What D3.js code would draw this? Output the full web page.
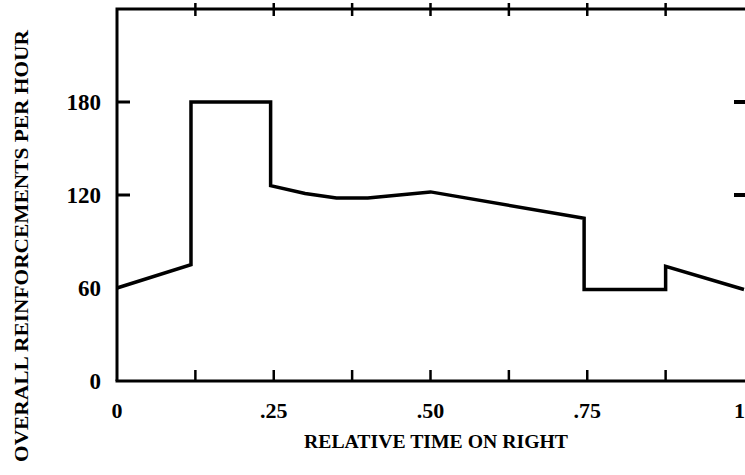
<!DOCTYPE html>
<html>
<head>
<meta charset="utf-8">
<script src="https://cdn.jsdelivr.net/npm/d3@7"></script>
<style>
  body { margin: 0; background: #fff; }
  svg { display: block; }
  text { font-family: "Liberation Serif", "DejaVu Serif", serif; font-weight: bold; fill: #000; }
</style>
</head>
<body>
<svg id="chart" width="745" height="475"></svg>
<script>
// data
const timeValues = [0, 0.118, 0.118, 0.245, 0.245, 0.3, 0.35, 0.4, 0.45, 0.5, 0.745, 0.745, 0.875, 0.875, 1];
const rateValues = [60, 75, 180, 180, 126, 121, 118, 118, 120, 122, 105, 59, 59, 74, 59];
const xTicks = [0, 0.125, 0.25, 0.375, 0.5, 0.625, 0.75, 0.875, 1];
const xTickLabels = ["0", ".25", ".50", ".75", "1"];
const xLabelValues = [0, 0.25, 0.5, 0.75, 1];
const yTicks = [0, 60, 120, 180];

const svg = d3.select("#chart");
const plotLeft = 117, plotRight = 744, plotTop = 9, plotBottom = 381;

const x = d3.scaleLinear().domain([0, 1]).range([plotLeft, plotRight]);
const y = d3.scaleLinear().domain([0, 240]).range([plotBottom, plotTop]);

// frame: left and bottom axis, top line
svg.append("path")
    .attr("d", `M${plotLeft},${plotBottom} L${plotLeft},${plotTop} L745,${plotTop}`)
    .attr("fill", "none")
    .attr("stroke", "#000")
    .attr("stroke-width", 3);
svg.append("line")
    .attr("x1", plotLeft - 1.5).attr("x2", 745)
    .attr("y1", plotBottom).attr("y2", plotBottom)
    .attr("stroke", "#000")
    .attr("stroke-width", 3);

// x ticks, bottom (inward) and top (crossing)
xTicks.filter(d => d > 0 && d < 1).forEach(function (d) {
    svg.append("line")
        .attr("x1", x(d)).attr("x2", x(d))
        .attr("y1", plotBottom).attr("y2", plotBottom - 11)
        .attr("stroke", "#000").attr("stroke-width", 2.5);
    svg.append("line")
        .attr("x1", x(d)).attr("x2", x(d))
        .attr("y1", plotTop - 6).attr("y2", plotTop + 7)
        .attr("stroke", "#000").attr("stroke-width", 2.5);
});

// y ticks, left inward and right edge
yTicks.filter(d => d > 60).forEach(function (d) {
    svg.append("line")
        .attr("x1", plotLeft).attr("x2", plotLeft + 13)
        .attr("y1", y(d)).attr("y2", y(d))
        .attr("stroke", "#000").attr("stroke-width", 3);
    svg.append("line")
        .attr("x1", 734).attr("x2", 745)
        .attr("y1", y(d)).attr("y2", y(d))
        .attr("stroke", "#000").attr("stroke-width", 4);
});

// tick labels
svg.selectAll("text.ylab")
    .data(yTicks)
    .enter()
    .append("text")
    .attr("class", "ylab")
    .attr("x", 101)
    .attr("y", d => y(d) + 8)
    .attr("text-anchor", "end")
    .attr("font-size", 23)
    .text(d => d);

svg.selectAll("text.xlab")
    .data(xLabelValues)
    .enter()
    .append("text")
    .attr("class", "xlab")
    .attr("x", d => d === 1 ? 745 : x(d))
    .attr("y", 418)
    .attr("text-anchor", d => d === 1 ? "end" : "middle")
    .attr("font-size", 22)
    .text((d, i) => xTickLabels[i]);

// axis titles
svg.append("text")
    .attr("x", 436)
    .attr("y", 448)
    .attr("text-anchor", "middle")
    .attr("font-size", 19)
    .attr("textLength", 264)
    .attr("lengthAdjust", "spacingAndGlyphs")
    .text("RELATIVE TIME ON RIGHT");

svg.append("text")
    .attr("transform", "translate(28,246) rotate(-90)")
    .attr("text-anchor", "middle")
    .attr("font-size", 19)
    .attr("textLength", 432)
    .attr("lengthAdjust", "spacingAndGlyphs")
    .text("OVERALL REINFORCEMENTS PER HOUR");

// data line
const line = d3.line()
    .x(d => x(d[0]))
    .y(d => y(d[1]))
    .curve(d3.curveLinear);

svg.append("path")
    .datum(timeValues.map((t, i) => [t, rateValues[i]]))
    .attr("d", line)
    .attr("fill", "none")
    .attr("stroke", "#000")
    .attr("stroke-width", 3.5)
    .attr("stroke-linejoin", "miter");
</script>
</body>
</html>
